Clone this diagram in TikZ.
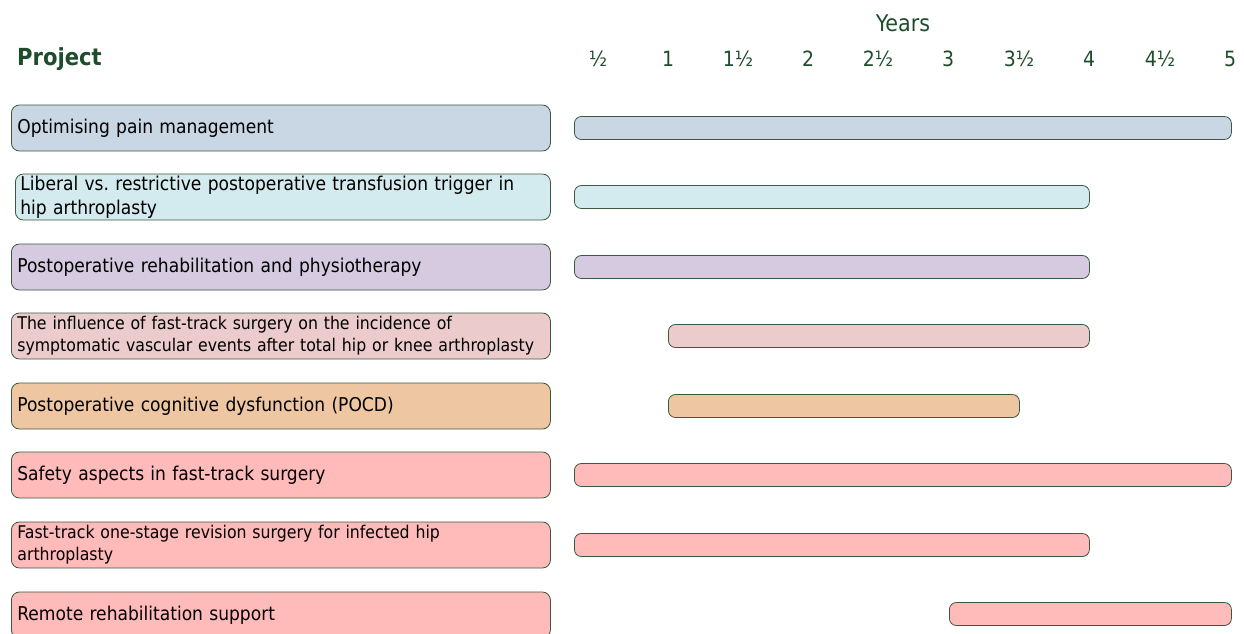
\documentclass[tikz,border=0pt]{standalone}
\usepackage{fontspec}
\setmainfont{DejaVu Sans Condensed}
\frenchspacing
\definecolor{bordc}{HTML}{3A5A40}
\definecolor{headc}{HTML}{1E4D2B}
\definecolor{ca}{HTML}{C9D6E4}
\definecolor{cb}{HTML}{D3EAEE}
\definecolor{cc}{HTML}{D5CADF}
\definecolor{cd}{HTML}{EBCBCB}
\definecolor{ce}{HTML}{EFC6A2}
\definecolor{cf}{HTML}{FFBABA}
\begin{document}
\begin{tikzpicture}[x=1pt,y=-1pt,
  lbl/.style={draw=bordc, line width=0.8pt, rounded corners=8pt, minimum width=539pt, minimum height=46pt,
    text width=527pt, inner xsep=6pt, inner ysep=0pt, align=left, anchor=west,
    font=\fontsize{19}{24}\selectfont},
  lbls/.style={lbl, font=\fontsize{17.5}{22}\selectfont},
  bar/.style={draw=bordc, line width=0.8pt, rounded corners=7pt, minimum height=23pt, inner sep=0pt, anchor=west},
  yr/.style={text=headc, font=\fontsize{21}{24}\selectfont, inner sep=0pt}]
\useasboundingbox (0,0) rectangle (1244,633);
% header
\node[text=headc, font=\bfseries\fontsize{23.5}{26}\selectfont, anchor=west, inner sep=0pt] (proj) at (17,59) {Project};
\node[yr, font=\fontsize{23}{26}\selectfont] (years) at (903,23) {Years};
\node[yr] (y1) at (598,59) {½};
\node[yr] (y2) at (668,59) {1};
\node[yr] (y3) at (738,59) {1½};
\node[yr] (y4) at (808,59) {2};
\node[yr] (y5) at (878,59) {2½};
\node[yr] (y6) at (948,59) {3};
\node[yr] (y7) at (1019,59) {3½};
\node[yr] (y8) at (1089,59) {4};
\node[yr] (y9) at (1160,59) {4½};
\node[yr] (y10) at (1230,59) {5};
% project boxes
\node[lbl, fill=ca] (p1) at (11,128) {Optimising pain management};
\node[lbl, fill=cb, minimum width=535pt, text width=525pt, inner xsep=5pt] (p2) at (15,197) {Liberal vs. restrictive postoperative transfusion trigger in\\hip arthroplasty};
\node[lbl, fill=cc] (p3) at (11,267) {Postoperative rehabilitation and physiotherapy};
\node[lbls, fill=cd] (p4) at (11,336) {The influence of fast-track surgery on the incidence of\\symptomatic vascular events after total hip or knee arthroplasty};
\node[lbl, fill=ce] (p5) at (11,406) {Postoperative cognitive dysfunction (POCD)};
\node[lbl, fill=cf] (p6) at (11,475) {Safety aspects in fast-track surgery};
\node[lbls, fill=cf] (p7) at (11,545) {Fast-track one-stage revision surgery for infected hip\\arthroplasty};
\node[lbl, fill=cf] (p8) at (11,615) {Remote rehabilitation support};
% bars
\node[bar, fill=ca, minimum width=657pt] (b1) at (574,128) {};
\node[bar, fill=cb, minimum width=515pt] (b2) at (574,197) {};
\node[bar, fill=cc, minimum width=515pt] (b3) at (574,267) {};
\node[bar, fill=cd, minimum width=421pt] (b4) at (668,336) {};
\node[bar, fill=ce, minimum width=351pt] (b5) at (668,406) {};
\node[bar, fill=cf, minimum width=657pt] (b6) at (574,475) {};
\node[bar, fill=cf, minimum width=515pt] (b7) at (574,545) {};
\node[bar, fill=cf, minimum width=282pt] (b8) at (949,614) {};
\end{tikzpicture}
\end{document}
